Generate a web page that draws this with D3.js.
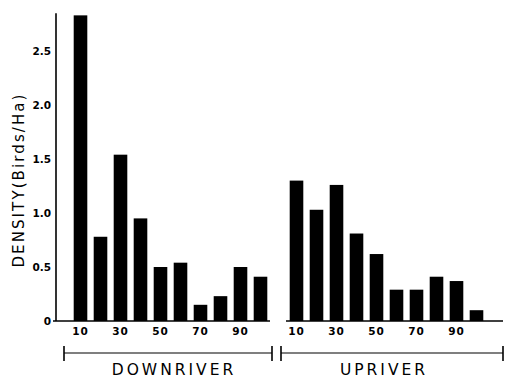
<!DOCTYPE html>
<html>
<head>
    <meta charset="utf-8">
    <title>Bird density downriver / upriver</title>
    <style type="text/css">
    body { margin: 0; background: #fff; }
    text { font-family: "DejaVu Sans", sans-serif; fill: #000; }
    </style>
</head>
<body>

    <script src="https://d3js.org/d3.v7.min.js"></script>
    <script>
      // distance classes (shown as 10, 30, ... under the bars)
      var classes = [10, 20, 30, 40, 50, 60, 70, 80, 90, 100];
      var tickLabels = [10, 30, 50, 70, 90];
      var downriver = [2.83, 0.78, 1.54, 0.95, 0.50, 0.54, 0.15, 0.23, 0.50, 0.41];
      var upriver   = [1.30, 1.03, 1.26, 0.81, 0.62, 0.29, 0.29, 0.41, 0.37, 0.10];
      var yTicks = [0, 0.5, 1.0, 1.5, 2.0, 2.5];
      var groups = ["DOWNRIVER", "UPRIVER"];

      var width = 505, height = 378;

      var svg = d3.select("body")
          .append("svg")
          .attr("width", width)
          .attr("height", height);

      var yScale = d3.scaleLinear()
          .domain([0, 2.85])
          .range([321, 13.2]);

      // one band scale per panel
      var xDown = d3.scaleBand()
          .domain(classes)
          .range([70.5, 270.5])
          .paddingInner(0.32)
          .paddingOuter(0.16);

      var xUp = d3.scaleBand()
          .domain(classes)
          .range([286.5, 486.5])
          .paddingInner(0.32)
          .paddingOuter(0.16);

      var panels = [
        {name: groups[0], values: downriver, x: xDown, base: [53, 270], bracket: [64, 272], labelX: 174},
        {name: groups[1], values: upriver,   x: xUp,   base: [286, 503], bracket: [281, 503], labelX: 384}
      ];

      // y axis
      var yAxis = svg.append("g")
          .attr("transform", "translate(56,0)")
          .call(d3.axisLeft(yScale)
              .tickValues(yTicks)
              .tickSize(0)
              .tickPadding(5)
              .tickFormat(function(d){ return d === 0 ? "0" : d3.format(".1f")(d); }));
      yAxis.select(".domain").remove();
      yAxis.selectAll("text")
          .attr("font-size", "10.5px")
          .attr("font-weight", "bold")
          .attr("font-family", "DejaVu Sans");

      svg.append("line")
          .attr("x1", 56).attr("x2", 56)
          .attr("y1", yScale.range()[1]).attr("y2", yScale(0))
          .attr("stroke", "#000")
          .attr("stroke-width", 1.6);

      svg.append("text")
          .attr("transform", "translate(24," + 180 + ") rotate(-90)")
          .attr("text-anchor", "middle")
          .attr("font-size", "15px")
          .attr("letter-spacing", "2.1px")
          .text("DENSITY(Birds/Ha)");

      panels.forEach(function(p){
        var g = svg.append("g");

        g.selectAll(".bar")
            .data(p.values)
            .enter()
            .append("rect")
            .attr("class", "bar")
            .attr("x", function(d, i){ return p.x(classes[i]); })
            .attr("y", function(d){ return yScale(d); })
            .attr("width", p.x.bandwidth())
            .attr("height", function(d){ return yScale(0) - yScale(d); })
            .attr("fill", "#000");

        // baseline
        g.append("line")
            .attr("x1", p.base[0]).attr("x2", p.base[1])
            .attr("y1", yScale(0)).attr("y2", yScale(0))
            .attr("stroke", "#000")
            .attr("stroke-width", 1.6);

        // x tick labels
        var xAxis = g.append("g")
            .attr("transform", "translate(0," + yScale(0) + ")")
            .call(d3.axisBottom(p.x).tickValues(tickLabels).tickSize(0).tickPadding(7));
        xAxis.select(".domain").remove();
        xAxis.selectAll("text")
            .attr("font-size", "10.5px")
            .attr("font-weight", "bold")
            .attr("font-family", "DejaVu Sans")
            .attr("letter-spacing", "1px");

        // bracket
        var by = 353;
        g.append("line")
            .attr("x1", p.bracket[0]).attr("x2", p.bracket[1])
            .attr("y1", by).attr("y2", by)
            .attr("stroke", "#000").attr("stroke-width", 1.2);
        [p.bracket[0], p.bracket[1]].forEach(function(bx){
          g.append("line")
              .attr("x1", bx).attr("x2", bx)
              .attr("y1", by - 7).attr("y2", by + 8)
              .attr("stroke", "#000").attr("stroke-width", 1.6);
        });

        g.append("text")
            .attr("x", p.labelX)
            .attr("y", 375)
            .attr("text-anchor", "middle")
            .attr("font-size", "15.5px")
            .attr("letter-spacing", "3px")
            .text(p.name);
      });
    </script>
</body>
</html>
